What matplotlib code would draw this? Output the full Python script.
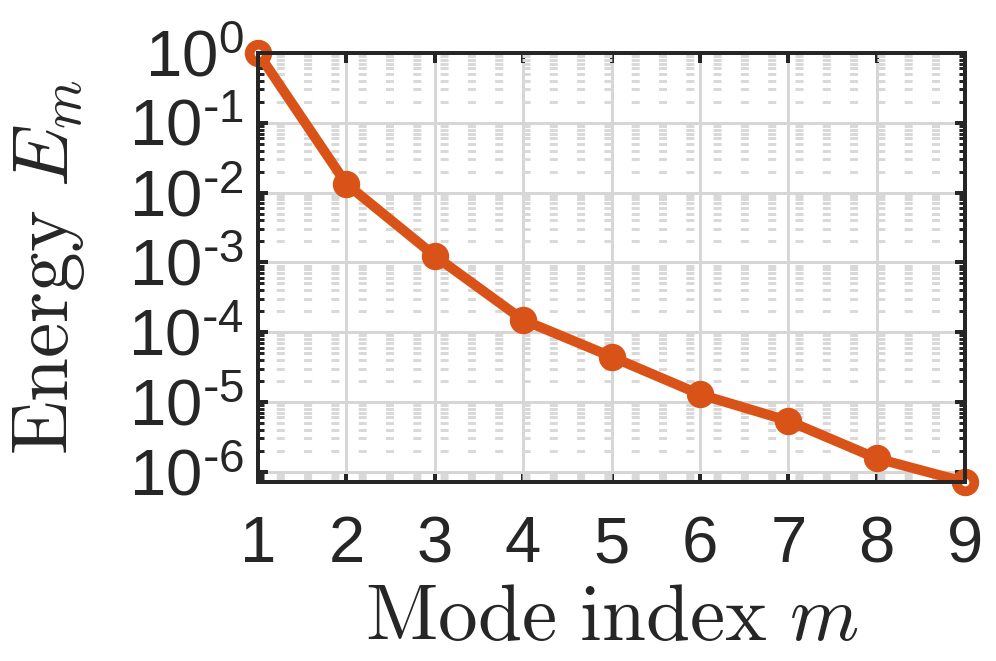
import numpy as np
import matplotlib
matplotlib.use("Agg")
import matplotlib.pyplot as plt
from matplotlib import ticker

# mode energies
mode = np.array([1, 2, 3, 4, 5, 6, 7, 8, 9])
energy = np.array([1.0, 1.33e-2, 1.24e-3, 1.49e-4, 4.44e-5, 1.28e-5, 5.35e-6, 1.55e-6, 7.1e-7])

yticks = [1e-6, 1e-5, 1e-4, 1e-3, 1e-2, 1e-1, 1e0]
ytick_labels = [r'$\mathregular{10^{\text{-}6}}$', r'$\mathregular{10^{\text{-}5}}$',
                r'$\mathregular{10^{\text{-}4}}$', r'$\mathregular{10^{\text{-}3}}$',
                r'$\mathregular{10^{\text{-}2}}$', r'$\mathregular{10^{\text{-}1}}$',
                r'$\mathregular{10^{0}}$']

plt.rcParams['font.family'] = ['Liberation Sans', 'DejaVu Sans']
plt.rcParams['lines.scale_dashes'] = False

dark = '#262626'
orange = '#D95319'
px = 0.72  # points per pixel at dpi 100

fig = plt.figure(figsize=(9.96, 6.61), dpi=100)
ax = fig.add_axes([258/996, 1-482/661, (965-258)/996, (482-53)/661])

ax.plot(mode, energy, color=orange, lw=10*px, marker='o', ms=26*px, mew=1, zorder=5, clip_on=False)
# rings at the two end points
ax.plot(mode[[0, -1]], energy[[0, -1]], ls='none', marker='o', ms=17*px, mew=9*px,
        mfc='white', mec=orange, zorder=6, clip_on=False)

ax.set_yscale('log')
ax.set_xlim(1, 9)
ax.set_ylim(energy.min(), energy.max())
ax.set_xticks(mode)
ax.set_yticks(yticks)
ax.set_yticklabels(ytick_labels)
ax.yaxis.set_minor_locator(ticker.LogLocator(base=10, subs=np.arange(2, 10), numticks=100))
ax.yaxis.set_minor_formatter(ticker.NullFormatter())

# grid
ax.grid(True, which='major', color='#d6d6d6', lw=3*px, ls='-')
ax.yaxis.grid(True, which='minor', color='#d9d9d9', lw=3*px,
              ls=(9*px, (8*px, 19.3*px)))
ax.xaxis.grid(False, which='minor')
ax.set_axisbelow(True)

for s in ax.spines.values():
    s.set_linewidth(4*px)
    s.set_color(dark)
    s.set_zorder(7)

ax.tick_params(which='both', direction='in', top=True, right=True, colors=dark)
ax.tick_params(which='major', length=10*px, width=4*px, labelsize=47)
ax.tick_params(which='minor', length=6*px, width=3*px)
ax.tick_params(axis='x', which='minor', bottom=False, top=False)
ax.tick_params(axis='x', pad=24)
ax.tick_params(axis='y', pad=10)

ax.set_xlabel(r'$\mathrm{Mode\ index}\ m$', fontsize=57, color=dark,
              math_fontfamily='cm', va='center')
ax.xaxis.set_label_coords(0.5, -0.32)
ax.set_ylabel(r'$\mathrm{Energy}\ E_m$', fontsize=57, color=dark,
              math_fontfamily='cm', va='center')
ax.yaxis.set_label_coords(-0.296, 0.5)

fig.savefig('out.png', dpi=100)
